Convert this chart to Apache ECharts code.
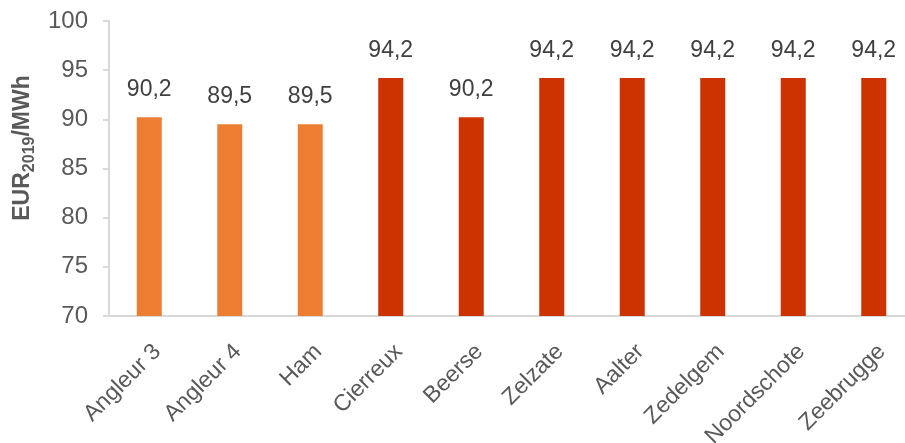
<!DOCTYPE html>
<html>
<head>
<meta charset="utf-8">
<script src="https://cdn.jsdelivr.net/npm/echarts@6/dist/echarts.min.js"></script>
<style>
  html, body { margin: 0; padding: 0; background: #fff; }
  #chart { width: 905px; height: 443px; }
</style>
</head>
<body>
<div id="chart"></div>
<script>
// Locations and their price levels (EUR2019/MWh)
const categories = ['Angleur 3', 'Angleur 4', 'Ham', 'Cierreux', 'Beerse', 'Zelzate', 'Aalter', 'Zedelgem', 'Noordschote', 'Zeebrugge'];
const values = [90.2, 89.5, 89.5, 94.2, 90.2, 94.2, 94.2, 94.2, 94.2, 94.2];
// First three locations use the lighter orange
const groupIndex = [0, 0, 0, 1, 1, 1, 1, 1, 1, 1];
const groupColors = ['#ED7D31', '#CC3300'];
const yTicks = { min: 70, max: 100, interval: 5 };

const chart = echarts.init(document.getElementById('chart'));
const font = 'Liberation Sans, Arial, sans-serif';

chart.setOption({
  animation: false,
  backgroundColor: '#ffffff',
  grid: { left: 109, top: 21, bottom: 127, width: 805, containLabel: false, outerBoundsMode: 'none' },
  xAxis: {
    type: 'category',
    data: categories,
    axisLine: { lineStyle: { color: '#D9D9D9', width: 2 } },
    axisTick: { show: false },
    axisLabel: {
      rotate: 45,
      interval: 0,
      margin: 24,
      align: 'right',
      verticalAlign: 'top',
      color: '#595959',
      fontSize: 23,
      fontFamily: font
    }
  },
  yAxis: {
    type: 'value',
    min: yTicks.min,
    max: yTicks.max,
    interval: yTicks.interval,
    splitLine: { show: false },
    axisLine: { show: true, lineStyle: { color: '#D9D9D9', width: 2 } },
    axisTick: { show: true, length: 6, lineStyle: { color: '#D9D9D9', width: 2 } },
    axisLabel: {
      margin: 21,
      color: '#595959',
      fontSize: 24,
      fontFamily: font
    }
  },
  graphic: [{
    type: 'text',
    x: 23,
    y: 148,
    rotation: Math.PI / 2,
    style: {
      text: '{b|EUR}{s|2019}{b|/MWh}',
      align: 'center',
      verticalAlign: 'middle',
      rich: {
        b: { fontSize: 23, fontWeight: 'bold', fill: '#595959', fontFamily: font },
        s: { fontSize: 16, fontWeight: 'bold', fill: '#595959', fontFamily: font, padding: [14, 0, 0, 0] }
      }
    }
  }],
  series: [{
    type: 'bar',
    barWidth: 25,
    data: values.map((v, i) => ({
      value: v,
      itemStyle: { color: groupColors[groupIndex[i]] }
    })),
    label: {
      show: true,
      position: 'top',
      distance: 16,
      color: '#404040',
      fontSize: 23,
      fontFamily: font,
      formatter: p => p.value.toFixed(1).replace('.', ',')
    }
  }]
});
</script>
</body>
</html>
